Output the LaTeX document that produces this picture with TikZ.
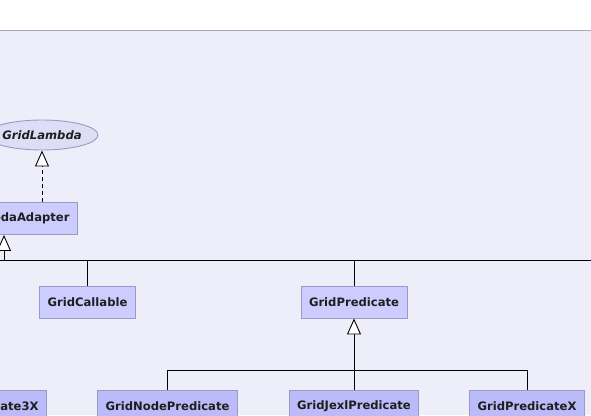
\documentclass[tikz,border=0pt]{standalone}
\usepackage{fontspec}
\setmainfont{DejaVu Sans}
\usepackage{xcolor}
\usetikzlibrary{arrows.meta,shapes.geometric,positioning}

\definecolor{umlback}{HTML}{EEEEFB}
\definecolor{umltop}{HTML}{A8A8B8}
\definecolor{umlline}{HTML}{9A9AC4}
\definecolor{umlfill}{HTML}{CCCCFF}
\definecolor{umlfillsub}{HTML}{BBBBF9}
\definecolor{umliface}{HTML}{DDDDF6}
\definecolor{umltext}{HTML}{1E1E1E}

\tikzset{
  cls/.style={draw=umlline, fill=umlfill, line width=0.9pt, minimum height=32pt,
    inner xsep=8pt, text=umltext, font=\bfseries\fontsize{11.6}{13}\selectfont},
  subcls/.style={cls, fill=umlfillsub},
  iface/.style={ellipse, draw=umlline, fill=umliface, line width=0.9pt, inner sep=0pt,
    minimum width=106pt, minimum height=30pt, text=umltext,
    font=\bfseries\itshape\fontsize{11.6}{13}\selectfont},
  inherit/.style={line width=0.9pt, -{Triangle[fill=white, length=16pt, width=14pt]}},
  realize/.style={inherit, dash pattern=on 4pt off 3pt}
}

\begin{document}
\begin{tikzpicture}[x=1pt,y=-1pt]

\useasboundingbox (0,0) rectangle (591,415);

% background of the package
\fill[white] (0,0) rectangle (591,30);
\fill[umlback] (0,30) rectangle (591,415);
\draw[umltop, line width=1pt] (0,30.5) -- (591,30.5);

% classes
\node[iface] (lambda) at (42,135) {GridLambda};
\node[cls, anchor=east] (adapter) at (78,218.5) {GridLambdaAdapter};

\node[cls] (callable) at (87.5,302) {GridCallable};
\node[cls] (predicate) at (354,302) {GridPredicate};

\node[subcls, anchor=east] (pred3x) at (47,406) {GridPredicate3X};
\node[subcls] (nodepred) at (167.5,406) {GridNodePredicate};
\node[subcls] (jexlpred) at (354,406) {GridJexlPredicate};
\node[subcls] (predx) at (527,406) {GridPredicateX};

% interface realization
\draw[realize] (adapter.north -| lambda.south) -- (lambda.south);

% upper generalization tree
\coordinate (busleft) at (-10,260.5);
\coordinate (busright) at (600,260.5);
\coordinate (adapterfoot) at (4,260.5);
\draw[line width=0.9pt] (busleft) -- (busright);
\draw[inherit] (adapterfoot) -- (adapterfoot |- adapter.south);
\draw[line width=0.9pt] (callable.north) -- (callable.north |- busleft);
\draw[line width=0.9pt] (predicate.north) -- (predicate.north |- busleft);

% lower generalization tree
\coordinate (fork) at (354,370.5);
\draw[line width=0.9pt] (nodepred.north) |- (fork) -| (predx.north);
\draw[inherit] (jexlpred.north) -- (predicate.south);

\end{tikzpicture}
\end{document}
